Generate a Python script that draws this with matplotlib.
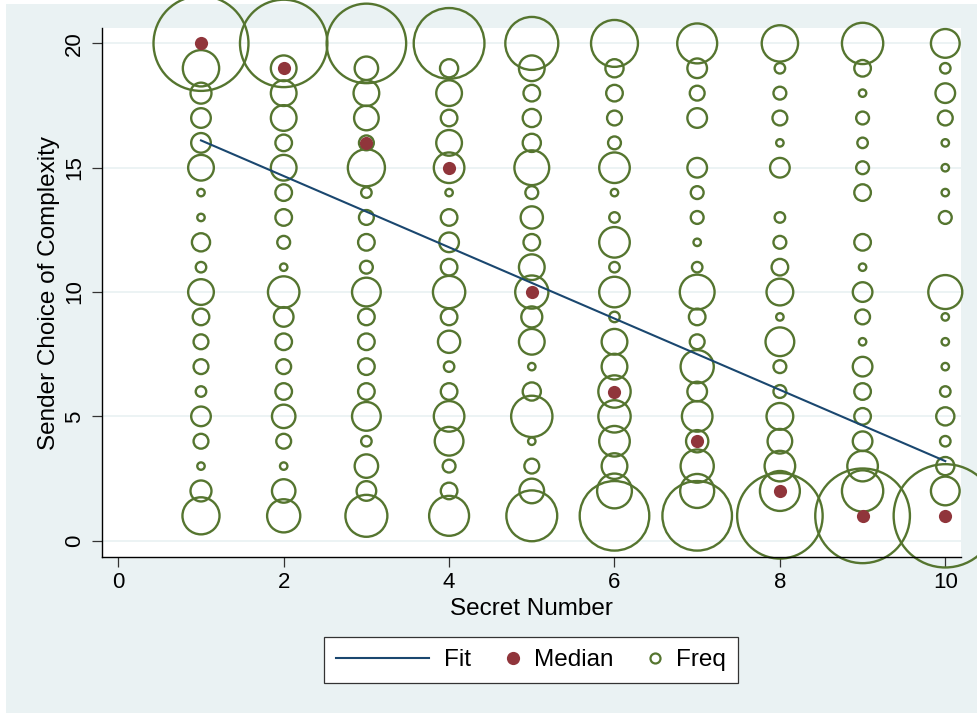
import numpy as np
import matplotlib
matplotlib.use("Agg")
import matplotlib.pyplot as plt
from matplotlib.lines import Line2D
from matplotlib.legend_handler import HandlerBase
from matplotlib.patches import Rectangle

plt.rcParams['font.family'] = ['Liberation Sans', 'DejaVu Sans']

# ---------------- data ----------------
secret_numbers = [1, 2, 3, 4, 5, 6, 7, 8, 9, 10]
complexity_levels = list(range(1, 21))  # 1..20

# frequency of each complexity level (1..20) per secret number
freq_s1 = [25, 8, 1, 4, 7, 2, 4, 4, 5, 12, 2, 6, 1, 1, 12, 7, 7, 8, 24, 164]
freq_s2 = [20, 10, 1, 4, 10, 5, 4, 5, 7, 18, 1, 3, 5, 5, 12, 5, 12, 12, 12, 139]
freq_s3 = [32, 7, 10, 2, 15, 5, 5, 5, 5, 15, 3, 5, 4, 2, 25, 4, 11, 12, 10, 115]
freq_s4 = [29, 5, 3, 15, 17, 5, 2, 9, 5, 19, 5, 7, 5, 1, 17, 12, 5, 12, 6, 91]
freq_s5 = [47, 11, 4, 1, 31, 6, 1, 12, 8, 20, 12, 5, 9, 3, 22, 6, 6, 5, 12, 51]
freq_s6 = [88, 22, 12, 17, 19, 19, 12, 12, 2, 17, 2, 17, 2, 1, 17, 3, 4, 5, 6, 40]
freq_s7 = [88, 21, 20, 9, 17, 7, 20, 4, 5, 22, 2, 1, 3, 3, 7, 0, 7, 4, 7, 29]
freq_s8 = [133, 29, 17, 11, 13, 3, 3, 15, 1, 13, 5, 3, 2, 0, 7, 1, 4, 3, 2, 24]
freq_s9 = [163, 31, 17, 7, 5, 5, 7, 1, 4, 7, 1, 5, 0, 5, 3, 2, 3, 1, 5, 31]
freq_s10 = [194, 15, 6, 2, 6, 2, 1, 1, 1, 21, 0, 0, 3, 1, 1, 1, 4, 7, 2, 15]

median_choice = [20, 19, 16, 15, 10, 6, 4, 2, 1, 1]

fit_x = [1, 10]
fit_y = [16.1, 3.2]

x_ticks = [0, 2, 4, 6, 8, 10]
y_ticks = [0, 5, 10, 15, 20]

# ---------------- style ----------------
BG = '#EAF2F3'
NAVY = '#1A476F'
MAROON = '#90353B'
GREEN = '#55752F'

W, H = 977, 713
fig = plt.figure(figsize=(W / 100, H / 100), dpi=100, facecolor='white')
fig.patches.append(Rectangle((6 / W, 0), 1 - 6 / W, 1 - 4 / H, transform=fig.transFigure,
                             facecolor=BG, edgecolor='none', zorder=-10))

ax = fig.add_axes([102 / W, 1 - 557 / H, (961 - 102) / W, (557 - 28) / H])
ax.set_facecolor('white')
ax.set_xlim(-0.197, 10.19)
ax.set_ylim(-0.656, 20.62)

all_freq = [freq_s1, freq_s2, freq_s3, freq_s4, freq_s5,
            freq_s6, freq_s7, freq_s8, freq_s9, freq_s10]
xs, ys, ns = [], [], []
for sn, fr in zip(secret_numbers, all_freq):
    for lvl, n in zip(complexity_levels, fr):
        if n > 0:
            xs.append(sn)
            ys.append(lvl)
            ns.append(n)
ns = np.array(ns, dtype=float)

for yv in y_ticks:
    ax.axhline(yv, color=BG, lw=1.3, zorder=0)

ax.scatter(xs, ys, s=28.5 * ns, facecolors='none', edgecolors=GREEN,
           linewidths=1.7, clip_on=False, zorder=2)
ax.plot(fit_x, fit_y, color=NAVY, lw=1.5, zorder=3)
ax.scatter(secret_numbers, median_choice, s=90, color=MAROON, zorder=4, clip_on=False,
           linewidths=0)

for side in ['top', 'right']:
    ax.spines[side].set_visible(False)
for side in ['left', 'bottom']:
    ax.spines[side].set_color('black')
    ax.spines[side].set_linewidth(1.0)

ax.set_xticks(x_ticks)
ax.set_yticks(y_ticks)
ax.tick_params(axis='both', direction='out', length=7.2, width=0.9, color='#333333',
               labelsize=16)
ax.tick_params(axis='x', pad=3.5)
ax.tick_params(axis='y', pad=5)
for lab in ax.get_yticklabels():
    lab.set_rotation(90)
    lab.set_va('center')

ax.set_xlabel('Secret Number', fontsize=17.5, labelpad=4)
ax.set_ylabel('Sender Choice of Complexity', fontsize=17.5, labelpad=3)

# ---------------- legend ----------------
PX = 72 / 100  # points per pixel


class FitHandler(HandlerBase):
    def create_artists(self, legend, orig_handle, xdescent, ydescent, width, height,
                       fontsize, trans):
        x1 = width + legend.handletextpad * fontsize - 15 * PX
        x0 = x1 - 93 * PX
        y = height / 2 - ydescent
        ln = Line2D([x0, x1], [y, y], color=NAVY, lw=1.5)
        ln.set_transform(trans)
        return [ln]


fit_handle = Line2D([], [], color=NAVY, lw=1.5)
med_handle = Line2D([], [], ls='none', marker='o', markersize=9.5, color=MAROON,
                    markeredgewidth=0)
freq_handle = Line2D([], [], ls='none', marker='o', markersize=7.2, markerfacecolor='none',
                     markeredgecolor=GREEN, markeredgewidth=1.6)

fig.patches.append(Rectangle((324 / W, 1 - 683 / H), (738 - 324) / W, (683 - 637) / H,
                             transform=fig.transFigure, facecolor='white',
                             edgecolor='#333333', lw=0.9, zorder=1))

leg = fig.legend([fit_handle, med_handle, freq_handle], ['Fit', 'Median', 'Freq'],
                 loc='center left', bbox_to_anchor=(413 / W, 1 - 660 / H), ncol=3,
                 frameon=False, fontsize=17.5, handlelength=0.83, handletextpad=0.45,
                 columnspacing=1.3, borderpad=0, borderaxespad=0, numpoints=1,
                 handler_map={fit_handle: FitHandler()})

fig.savefig('out.png', dpi=100, facecolor=fig.get_facecolor())
